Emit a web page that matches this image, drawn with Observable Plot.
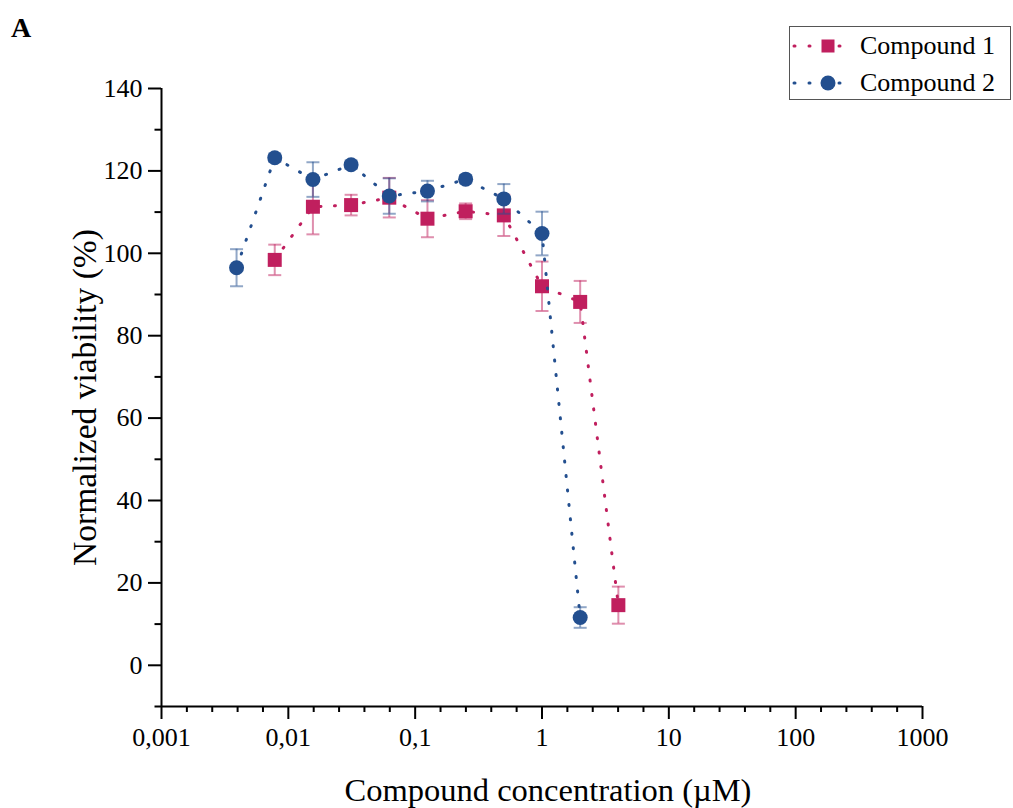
<!DOCTYPE html>
<html>
<head>
<meta charset="utf-8">
<script src="https://cdn.jsdelivr.net/npm/d3@7"></script>
<script src="https://cdn.jsdelivr.net/npm/@observablehq/plot@0.6"></script>
<style>
  html, body { margin: 0; padding: 0; background: #fff; }
  #wrap { position: relative; width: 1013px; height: 808px; font-family: "Liberation Serif", "Times New Roman", serif; }
  #panel { position: absolute; left: 11px; top: 14px; font-size: 28px; font-weight: bold; line-height: 1; }
  #legend { position: absolute; left: 789px; top: 26px; width: 222px; height: 74px; box-sizing: border-box;
            border: 1px solid #555; background: #fff; }
  .row { position: absolute; left: 0; height: 36px; display: flex; align-items: center; }
  .row svg { display: block; }
  .row span { font-size: 26px; margin-left: 2px; line-height: 1; }
</style>
</head>
<body>
<div id="wrap">
  <div id="panel">A</div>
  <div id="legend"></div>
</div>
<script>
// Serial two-fold dilutions (µM) and normalized viability (%), mean ± error
const conc1 = [0.0078125, 0.015625, 0.03125, 0.0625, 0.125, 0.25, 0.5, 1, 2, 4];
const viab1 = [98.4, 111.3, 111.7, 113.5, 108.4, 110.2, 109.2, 92.0, 88.2, 14.6];
const err1  = [3.7, 6.7, 2.5, 4.8, 4.5, 1.9, 5.0, 6.0, 5.1, 4.5];

const conc2 = [0.00390625, 0.0078125, 0.015625, 0.03125, 0.0625, 0.125, 0.25, 0.5, 1, 2];
const viab2 = [96.5, 123.2, 117.9, 121.5, 113.9, 115.1, 118.0, 113.2, 104.8, 11.6];
const err2  = [4.5, 1.0, 4.2, 1.0, 4.3, 2.5, 1.0, 3.6, 5.3, 2.5];

const seriesNames = ["Compound 1", "Compound 2"];
const seriesColors = ["#c01f5e", "#234f8f"];

const xMajor = [0.001, 0.01, 0.1, 1, 10, 100, 1000];
const xTickLabels = ["0,001", "0,01", "0,1", "1", "10", "100", "1000"];
const yMajor = [0, 20, 40, 60, 80, 100, 120, 140];
const yMinor = [-10, 10, 30, 50, 70, 90, 110, 130];

const xTitle = "Compound concentration (\u00b5M)";
const yTitle = "Normalized viability (%)";

// four evenly spaced (in log space) minor ticks per decade
const xMinor = [];
for (let k = -3; k < 3; ++k) for (let j = 1; j < 5; ++j) xMinor.push(Math.pow(10, k + j / 5));

const rows = (conc, viab, err) => conc.map((c, i) => ({c, v: viab[i], lo: viab[i] - err[i], hi: viab[i] + err[i]}));
const s1 = rows(conc1, viab1, err1);
const s2 = rows(conc2, viab2, err2);

// horizontal bar used as error-bar cap
const cap = {draw(ctx) { ctx.moveTo(-6.5, 0); ctx.lineTo(6.5, 0); }};
const labelOf = new Map(xMajor.map((d, i) => [d, xTickLabels[i]]));

function seriesMarks(data, color, symbol, r) {
  return [
    Plot.line(data, {x: "c", y: "v", stroke: color, strokeWidth: 3, strokeDasharray: "1 13.5", strokeLinecap: "round"}),
    Plot.ruleX(data, {x: "c", y1: "lo", y2: "hi", stroke: color, strokeOpacity: 0.5, strokeWidth: 2}),
    Plot.dot(data, {x: "c", y: "lo", symbol: cap, r: 3, stroke: color, strokeOpacity: 0.5, strokeWidth: 2, fill: "none"}),
    Plot.dot(data, {x: "c", y: "hi", symbol: cap, r: 3, stroke: color, strokeOpacity: 0.5, strokeWidth: 2, fill: "none"}),
    Plot.dot(data, {x: "c", y: "v", symbol, r, fill: color, stroke: "none"})
  ];
}

const chart = Plot.plot({
  width: 1013,
  height: 808,
  marginLeft: 161,
  marginRight: 91,
  marginTop: 88,
  marginBottom: 102,
  style: {fontFamily: "'Liberation Serif', 'Times New Roman', serif", fontSize: "26px", color: "#000", background: "transparent"},
  x: {type: "log", domain: [0.001, 1000]},
  y: {domain: [-10, 140]},
  marks: [
    Plot.axisY(yMajor, {tickSize: 13, tickPadding: 6, strokeWidth: 2, tickFormat: d => String(d), label: null, fontSize: 26}),
    Plot.axisY(yMinor, {tickSize: 6.5, strokeWidth: 2, tickFormat: () => "", label: null}),
    Plot.axisX(xMajor, {tickSize: 13, tickPadding: 8, strokeWidth: 2, tickFormat: d => labelOf.get(d), label: null, fontSize: 26}),
    Plot.axisX(xMinor, {tickSize: 6, strokeWidth: 2, tickFormat: () => "", label: null}),
    Plot.ruleX([0.001], {y1: -10, y2: 140, stroke: "#000", strokeWidth: 2}),
    Plot.ruleY([-10], {x1: 0.001, x2: 1000, stroke: "#000", strokeWidth: 2}),
    ...seriesMarks(s1, seriesColors[0], "square", 7.9),
    ...seriesMarks(s2, seriesColors[1], "circle", 7.5),
    Plot.text([xTitle], {frameAnchor: "bottom", lineAnchor: "bottom", dy: 94, dx: 6, fontSize: 32.5, fill: "#000"}),
    Plot.text([yTitle], {frameAnchor: "left", textAnchor: "middle", lineAnchor: "bottom", rotate: -90, dx: -66, fontSize: 33.5, fill: "#000"})
  ]
});
document.getElementById("wrap").prepend(chart);

// legend
const legend = document.getElementById("legend");
const symbols = [
  `<rect x="31.5" y="11.5" width="13" height="13" fill="${seriesColors[0]}"/>`,
  `<circle cx="38" cy="18" r="7.5" fill="${seriesColors[1]}"/>`
];
seriesNames.forEach((name, i) => {
  const row = document.createElement("div");
  row.className = "row";
  row.style.top = (i === 0 ? 1 : 38) + "px";
  row.innerHTML =
    `<svg width="68" height="36"><line x1="4" y1="18" x2="64" y2="18" stroke="${seriesColors[i]}" stroke-width="3" stroke-dasharray="1 14" stroke-linecap="round"/>${symbols[i]}</svg>` +
    `<span>${name}</span>`;
  legend.appendChild(row);
});
</script>
</body>
</html>
